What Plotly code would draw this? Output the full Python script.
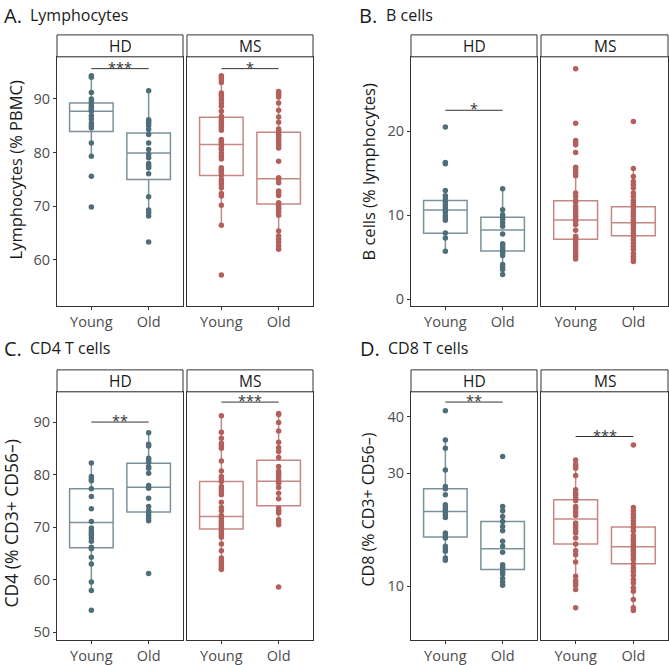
import plotly.graph_objects as go

W, H = 669, 665
groups = ["Young", "Old"]
cohorts = ["HD", "MS"]
HD_COLOR = "#4f6e79"
MS_COLOR = "#b3605c"
HD_BOX = "rgba(79,110,121,0.75)"
MS_BOX = "rgba(179,96,92,0.75)"

# ---------------- Panel A: Lymphocytes (% PBMC) ----------------
lym_hd_young = [94.27, 94.02, 91.18, 89.94, 89.5, 89.07, 88.58, 88.27, 87.96, 87.65,
                86.85, 86.23, 85.49, 84.99, 84.56, 81.77, 79.30, 75.59, 69.83]
lym_hd_old = [91.48, 86.10, 85.79, 85.49, 84.99, 84.25, 83.32, 81.77, 80.54, 79.61,
              78.99, 77.94, 77.57, 77.14, 76.02, 71.75, 69.28, 68.78, 68.16, 63.34]
lym_ms_young = [94.27, 93.96, 93.53, 93.03, 91.05, 90.74, 90.31, 89.82, 89.20, 88.58,
                87.65, 86.72, 86.23, 85.79, 85.36, 84.99, 84.56, 84.12, 82.39, 82.08,
                81.77, 81.28, 80.85, 80.54, 79.92, 79.30, 78.80, 77.13, 76.82, 76.52,
                76.21, 75.71, 74.97, 74.48, 74.04, 73.42, 72.37, 71.88, 70.15, 66.44, 57.2]
lym_ms_old = [91.36, 91.05, 90.74, 90.31, 89.20, 87.84, 86.60, 85.61, 84.37, 84.12,
              83.75, 83.32, 83.01, 82.52, 82.08, 81.65, 81.28, 80.85, 78.37, 75.28,
              74.97, 74.35, 72.81, 72.50, 72.00, 70.64, 70.15, 69.71, 69.40, 68.91,
              68.29, 65.38, 64.46, 63.84, 63.22, 62.60, 61.98]
# box stats: q1, median, q3, lower whisker, upper whisker
lym_box_hd_young = [83.88, 87.65, 89.2, 79.3, 94.27]
lym_box_hd_old = [74.97, 79.92, 83.63, 68.16, 91.48]
lym_box_ms_young = [75.71, 81.47, 86.54, 66.44, 94.27]
lym_box_ms_old = [70.39, 75.09, 83.75, 61.98, 91.36]
lym_sig_y = [95.6, 95.6]
lym_sig_label = ["***", "*"]
lym_ticks = [60, 70, 80, 90]
lym_range = [51.4, 97.8]

# ---------------- Panel B: B cells (% lymphocytes) ----------------
b_hd_young = [20.51, 16.28, 16.12, 12.95, 12.32, 11.92, 11.60, 11.25, 10.97, 10.65,
              10.34, 9.94, 9.66, 9.39, 7.88, 7.29, 5.70]
b_hd_old = [13.15, 10.65, 10.06, 9.78, 9.46, 9.07, 8.67, 7.76, 6.61, 6.38, 6.10,
            5.82, 5.51, 5.19, 4.12, 3.84, 3.52, 2.93]
b_ms_young = [27.45, 20.95, 18.89, 18.65, 18.38, 17.46, 15.72, 15.41, 15.09, 14.69,
              12.63, 12.24, 11.76, 11.52, 11.05, 10.73, 10.45, 10.18, 9.86, 9.54,
              9.27, 8.87, 8.20, 7.49, 7.29, 7.09, 6.77, 6.50, 6.22, 5.90, 5.59, 5.31,
              5.11, 4.79]
b_ms_old = [21.15, 15.56, 14.61, 14.02, 13.62, 13.23, 12.63, 12.24, 11.76, 11.45,
            11.13, 10.85, 10.45, 10.18, 9.86, 9.46, 9.15, 8.87, 8.59, 8.28, 7.88,
            7.49, 7.09, 6.69, 6.30, 5.90, 5.43, 5.11, 4.79, 4.47]
b_box_hd_young = [7.84, 10.61, 11.76, 5.70, 12.95]
b_box_hd_old = [5.74, 8.24, 9.74, 2.93, 13.15]
b_box_ms_young = [7.13, 9.43, 11.72, 4.79, 15.41]
b_box_ms_old = [7.56, 9.11, 11.01, 4.47, 15.56]
b_sig_y = [22.5, None]
b_sig_label = ["*", None]
b_ticks = [0, 10, 20]
b_range = [-0.83, 28.87]

# ---------------- Panel C: CD4 (% CD3+ CD56-) ----------------
cd4_hd_young = [82.21, 79.62, 79.18, 78.80, 77.28, 75.82, 73.48, 71.08, 69.81, 69.30,
                68.86, 68.42, 67.91, 67.28, 66.14, 65.89, 64.24, 62.98, 59.56, 57.91, 54.18]
cd4_hd_old = [87.97, 85.76, 85.44, 83.10, 82.78, 82.34, 81.52, 81.20, 80.25, 77.91,
              77.41, 75.51, 73.92, 73.10, 72.66, 72.22, 71.71, 71.20, 61.14]
cd4_ms_young = [91.20, 88.04, 86.90, 85.95, 85.51, 85.00, 82.60, 80.70, 79.62, 79.18,
                78.67, 77.72, 77.28, 76.77, 76.14, 74.75, 73.73, 73.10, 72.21, 71.71,
                71.20, 70.76, 70.32, 69.81, 69.30, 68.86, 68.42, 68.04, 66.77, 65.51,
                64.11, 63.61, 63.17, 62.72, 62.22, 61.90]
cd4_ms_old = [91.65, 91.46, 89.94, 88.29, 86.14, 85.13, 84.37, 83.23, 81.52, 80.70,
              80.25, 79.81, 79.30, 78.67, 78.35, 77.53, 76.46, 75.38, 73.61, 73.10,
              72.66, 71.39, 70.95, 70.44, 58.61]
cd4_box_hd_young = [66.08, 70.89, 77.28, 57.91, 82.21]
cd4_box_hd_old = [72.85, 77.59, 82.15, 71.2, 87.97]
cd4_box_ms_young = [69.62, 72.03, 78.67, 61.9, 91.2]
cd4_box_ms_old = [74.05, 78.73, 82.72, 70.44, 91.65]
cd4_sig_y = [90.0, 93.8]
cd4_sig_label = ["**", "***"]
cd4_ticks = [50, 60, 70, 80, 90]
cd4_range = [48.48, 95.76]

# ---------------- Panel D: CD8 (% CD3+ CD56-) ----------------
cd8_hd_young = [41.06, 35.88, 34.41, 30.59, 27.65, 27.24, 26.18, 24.41, 23.94, 23.53,
                23.12, 22.65, 22.18, 19.41, 19.00, 18.53, 17.06, 16.65, 16.18, 15.00, 14.59]
cd8_hd_old = [32.94, 24.12, 23.35, 22.35, 21.47, 20.59, 19.82, 17.94, 17.06, 16.00,
              13.82, 13.35, 12.94, 12.53, 12.18, 11.35, 10.76, 10.18]
cd8_ms_young = [32.35, 31.59, 31.18, 30.88, 29.59, 27.06, 26.47, 26.06, 25.59, 25.12,
                24.12, 23.71, 23.12, 22.53, 21.18, 20.76, 20.29, 19.82, 19.41, 18.53,
                17.47, 16.29, 15.59, 14.29, 11.76, 11.00, 10.59, 10.18, 9.41, 6.18]
cd8_ms_old = [35.00, 23.94, 23.35, 22.76, 22.18, 21.59, 21.00, 20.41, 19.82, 19.00,
              18.41, 17.94, 17.47, 17.06, 16.65, 16.18, 15.71, 15.29, 14.71, 13.94,
              13.24, 12.65, 11.94, 11.18, 10.59, 9.71, 9.12, 7.65, 6.18, 5.71]
cd8_box_hd_young = [18.71, 23.24, 27.24, 14.59, 35.88]
cd8_box_hd_old = [12.94, 16.65, 21.47, 10.18, 24.12]
cd8_box_ms_young = [17.47, 21.88, 25.29, 9.41, 32.35]
cd8_box_ms_old = [14.0, 17.0, 20.47, 5.71, 23.94]
cd8_sig_y = [42.6, 36.5]
cd8_sig_label = ["**", "***"]
cd8_ticks = [10, 30, 40]
cd8_range = [0.47, 44.41]

panel_letters = ["A.", "B.", "C.", "D."]
panel_titles = ["Lymphocytes", "B cells", "CD4 T cells", "CD8 T cells"]
y_titles = ["Lymphocytes (% PBMC)", "B cells (% lymphocytes)",
            "CD4 (% CD3+ CD56\u2013)", "CD8 (% CD3+ CD56\u2013)"]

# ---------------- assemble ----------------
panels = [
    dict(points=[[lym_hd_young, lym_hd_old], [lym_ms_young, lym_ms_old]],
         boxes=[[lym_box_hd_young, lym_box_hd_old], [lym_box_ms_young, lym_box_ms_old]],
         sig_y=lym_sig_y, sig_label=lym_sig_label, ticks=lym_ticks, yr=lym_range),
    dict(points=[[b_hd_young, b_hd_old], [b_ms_young, b_ms_old]],
         boxes=[[b_box_hd_young, b_box_hd_old], [b_box_ms_young, b_box_ms_old]],
         sig_y=b_sig_y, sig_label=b_sig_label, ticks=b_ticks, yr=b_range),
    dict(points=[[cd4_hd_young, cd4_hd_old], [cd4_ms_young, cd4_ms_old]],
         boxes=[[cd4_box_hd_young, cd4_box_hd_old], [cd4_box_ms_young, cd4_box_ms_old]],
         sig_y=cd4_sig_y, sig_label=cd4_sig_label, ticks=cd4_ticks, yr=cd4_range),
    dict(points=[[cd8_hd_young, cd8_hd_old], [cd8_ms_young, cd8_ms_old]],
         boxes=[[cd8_box_hd_young, cd8_box_hd_old], [cd8_box_ms_young, cd8_box_ms_old]],
         sig_y=cd8_sig_y, sig_label=cd8_sig_label, ticks=cd8_ticks, yr=cd8_range),
]

# pixel layout
facet_x = {0: [(57, 183), (187, 313)], 1: [(411, 537), (541, 668)]}
plot_y = {0: (57, 307), 1: (393, 642)}
strip_y = {0: (35, 57), 1: (371, 393)}
title_pos = [(2, 0, 28), (357, 0, 384), (2, 334, 28), (358, 334, 386)]
ytitle_pos = [(15, 171, 16.5), (368, 173, 16.5), (11, 525, 17.5), (368, 511, 16)]

def px(x):
    return x / W

def py(y):
    return 1 - y / H

fig = go.Figure()
layout = dict(width=W, height=H, margin=dict(l=0, r=0, t=0, b=0),
              paper_bgcolor="white", plot_bgcolor="white", showlegend=False,
              font=dict(family="Open Sans", color="#333333"))
shapes = []
annotations = []

for p, pan in enumerate(panels):
    col = p % 2
    row = p // 2
    for f in range(2):
        k = p * 2 + f + 1
        xs = "x" if k == 1 else f"x{k}"
        ys = "y" if k == 1 else f"y{k}"
        color = HD_COLOR if f == 0 else MS_COLOR
        bcolor = HD_BOX if f == 0 else MS_BOX
        for g in range(2):
            q1, med, q3, lf, uf = pan["boxes"][f][g]
            fig.add_trace(go.Box(
                x=[groups[g]], q1=[q1], median=[med], q3=[q3],
                lowerfence=[lf], upperfence=[uf], boxpoints=False,
                width=0.76, whiskerwidth=0, fillcolor="rgba(0,0,0,0)",
                line=dict(color=bcolor, width=1.5), xaxis=xs, yaxis=ys,
                hoverinfo="skip"))
            vals = pan["points"][f][g]
            fig.add_trace(go.Scatter(
                x=[groups[g]] * len(vals), y=vals, mode="markers",
                marker=dict(size=5.5, color=color, line=dict(width=0)),
                xaxis=xs, yaxis=ys, hoverinfo="skip"))
        x0, x1 = facet_x[col][f]
        y0, y1 = plot_y[row]
        xa = "xaxis" if k == 1 else f"xaxis{k}"
        ya = "yaxis" if k == 1 else f"yaxis{k}"
        layout[xa] = dict(domain=[px(x0), px(x1)], anchor=ys, type="category",
                          categoryorder="array", categoryarray=groups,
                          range=[-0.6, 1.6], showline=True, mirror=True,
                          linecolor="#333333", linewidth=1, ticks="outside",
                          ticklen=3, tickcolor="#333333", tickwidth=1,
                          tickfont=dict(size=14.5, color="#4d4d4d"),
                          showgrid=False, zeroline=False, fixedrange=True)
        layout[ya] = dict(domain=[py(y1), py(y0)], anchor=xs, range=pan["yr"],
                          tickvals=pan["ticks"], showline=True, mirror=True,
                          linecolor="#333333", linewidth=1,
                          ticks="outside" if f == 0 else "", ticklen=3,
                          tickcolor="#333333", tickwidth=1,
                          showticklabels=(f == 0),
                          tickfont=dict(size=14.5, color="#4d4d4d"),
                          showgrid=False, zeroline=False, fixedrange=True)
        # strip
        s0, s1 = strip_y[row]
        shapes.append(dict(type="rect", xref="paper", yref="paper",
                           x0=px(x0), x1=px(x1), y0=py(s1), y1=py(s0),
                           fillcolor="white", line=dict(color="#333333", width=1)))
        annotations.append(dict(text=cohorts[f], xref="paper", yref="paper",
                                x=px((x0 + x1) / 2), y=py((s0 + s1) / 2),
                                xanchor="center", yanchor="middle", showarrow=False,
                                font=dict(size=15.5, color="#1a1a1a")))
        # significance bar
        sy = pan["sig_y"][f]
        if sy is not None:
            shapes.append(dict(type="line", xref=xs, yref=ys, x0=0, x1=1,
                               y0=sy, y1=sy, line=dict(color="#333333", width=1)))
            annotations.append(dict(text=pan["sig_label"][f], xref=xs, yref=ys,
                                    x=0.5, y=sy, xanchor="center", yanchor="bottom",
                                    yshift=-10, showarrow=False,
                                    font=dict(size=14.5, color="#333333")))
    # titles
    tx, ttop, tx2 = title_pos[p]
    annotations.append(dict(text=panel_letters[p], xref="paper", yref="paper",
                            x=px(tx), y=py(ttop), xanchor="left", yanchor="top",
                            showarrow=False, font=dict(size=20, color="#1a1a1a")))
    annotations.append(dict(text=panel_titles[p], xref="paper", yref="paper",
                            x=px(tx2), y=py(ttop + 2), xanchor="left", yanchor="top",
                            showarrow=False, font=dict(size=16, color="#1a1a1a")))
    ax, ay, fs = ytitle_pos[p]
    annotations.append(dict(text=y_titles[p], xref="paper", yref="paper",
                            x=px(ax), y=py(ay), xanchor="center", yanchor="middle",
                            textangle=-90, showarrow=False,
                            font=dict(size=fs, color="#1a1a1a")))

layout["shapes"] = shapes
layout["annotations"] = annotations
fig.update_layout(**layout)

fig.write_html("out.html", config={"displayModeBar": False},
               post_script="document.body.style.margin='0';document.body.style.overflow='hidden';")
